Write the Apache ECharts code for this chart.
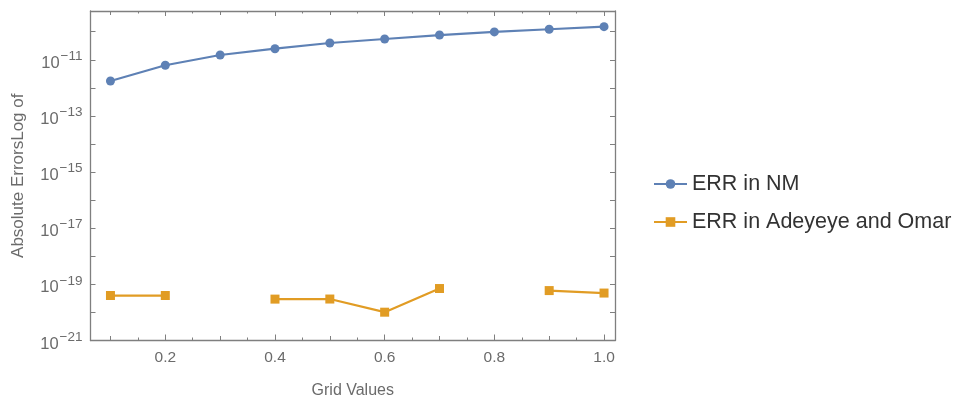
<!DOCTYPE html>
<html><head><meta charset="utf-8">
<script src="https://cdn.jsdelivr.net/npm/echarts@6/dist/echarts.min.js"></script>
<style>html,body{margin:0;padding:0;background:#fff}#c{width:963px;height:401px}</style>
</head><body><div id="c"></div>
<script>
const gridValues = [0.1,0.2,0.3,0.4,0.5,0.6,0.7,0.8,0.9,1.0];
const errNM = [1.76e-12,6.4e-12,1.48e-11,2.48e-11,3.96e-11,5.5e-11,7.6e-11,9.8e-11,1.22e-10,1.51e-10];
const errAO = [4.0e-20,4.0e-20,null,2.98e-20,3.0e-20,1.02e-20,7.1e-20,null,6.0e-20,4.9e-20];
const xTickLabels = [0.2,0.4,0.6,0.8,1.0];
const xMidTicks = [0.1,0.3,0.5,0.7,0.9];
const xSmallTicks = [0.15,0.25,0.35,0.45,0.55,0.65,0.75,0.85,0.95];
const yMin = 1e-21, yMax = 5.46e-10;
const yLabelExps = [-21,-19,-17,-15,-13,-11];
const seriesNames = ['ERR in NM','ERR in Adeyeye and Omar'];

const frame = '#7f7f7f';
const labCol = '#6b6b6b';
const FF = 'Liberation Sans, Arial, sans-serif';
function pairs(xs, ys){ return xs.map((x,i)=>[x, ys[i]]); }
function expFmt(e){
  e = Math.round(e);
  return '{b|10}{s|' + (e<0 ? '\u2212' + (-e) : e) + '}';
}
const chart = echarts.init(document.getElementById('c'));
const xCommon = {type:'value', min:0.0636, max:1.02, splitLine:{show:false}};
const yCommon = {type:'log', logBase:10, min:yMin, max:yMax, interval:1, splitLine:{show:false}};
function tickAxis(pos, vals, len){
  return Object.assign({}, xCommon, {position:pos, axisLine:{show:false},
    axisTick:{show:true, inside:true, length:len, lineStyle:{color:frame}, customValues:vals},
    axisLabel:{show:false}});
}
chart.setOption({
  animation:false,
  backgroundColor:'#fff',
  grid:{left:90.5, right:348, top:11, bottom:60.5, containLabel:false, outerBoundsMode:'none'},
  legend:{
    orient:'vertical', left:648, top:167, itemWidth:33, itemHeight:12, itemGap:14,
    textStyle:{fontSize:21.5, color:'#333', fontFamily:FF, lineHeight:24},
    data:seriesNames
  },
  xAxis:[
    Object.assign({}, xCommon, {position:'bottom', name:'Grid Values', nameLocation:'middle', nameGap:42,
      nameTextStyle:{fontSize:16, color:labCol, fontFamily:FF},
      axisLine:{show:true, lineStyle:{color:frame, width:1.3}},
      axisTick:{show:true, inside:true, length:6, lineStyle:{color:frame}, customValues:xTickLabels},
      axisLabel:{show:true, color:labCol, fontSize:15.5, margin:9, fontFamily:FF,
        customValues:xTickLabels, formatter:v=>v.toFixed(1)}}),
    tickAxis('bottom', xMidTicks, 4.5),
    tickAxis('bottom', xSmallTicks, 3),
    Object.assign({}, xCommon, {position:'top',
      axisLine:{show:true, lineStyle:{color:frame, width:1.3}},
      axisTick:{show:true, inside:true, length:5, lineStyle:{color:frame}, customValues:xTickLabels},
      axisLabel:{show:false}}),
    tickAxis('top', xMidTicks, 4),
    tickAxis('top', xSmallTicks, 2.5)
  ],
  yAxis:[
    Object.assign({}, yCommon, {position:'left', name:'Absolute ErrorsLog of', nameLocation:'middle', nameGap:64,
      nameRotate:90, nameMoveOverlap:false,
      nameTextStyle:{fontSize:17, color:labCol, fontFamily:FF},
      axisLine:{show:true, lineStyle:{color:frame, width:1.3}},
      axisTick:{show:true, inside:true, length:5, lineStyle:{color:frame}},
      axisLabel:{show:false}}),
    Object.assign({}, yCommon, {position:'right',
      axisLine:{show:true, lineStyle:{color:frame, width:1.3}},
      axisTick:{show:true, inside:true, length:5, lineStyle:{color:frame}},
      axisLabel:{show:false}}),
    {type:'value', position:'left', min:Math.log10(yMin), max:Math.log10(yMax), splitLine:{show:false},
      axisLine:{show:false}, axisTick:{show:false},
      axisLabel:{show:true, margin:8, customValues:yLabelExps, formatter:expFmt, hideOverlap:false,
        rich:{b:{fontSize:16.5, color:labCol, fontFamily:FF, padding:[7,0,0,0]},
              s:{fontSize:13.5, color:labCol, fontFamily:FF, padding:[0,0,7,1]}}}}
  ],
  series:[
    {name:seriesNames[0], type:'line', data:pairs(gridValues, errNM), symbol:'circle', symbolSize:9,
     xAxisIndex:0, yAxisIndex:0,
     color:'#5E81B5', lineStyle:{width:2.2, color:'#5E81B5'}, itemStyle:{color:'#5E81B5'}},
    {name:seriesNames[1], type:'line', data:pairs(gridValues, errAO), symbol:'rect', symbolSize:9,
     xAxisIndex:0, yAxisIndex:0, connectNulls:false,
     color:'#E19C24', lineStyle:{width:2.2, color:'#E19C24'}, itemStyle:{color:'#E19C24'}}
  ]
});
</script></body></html>
